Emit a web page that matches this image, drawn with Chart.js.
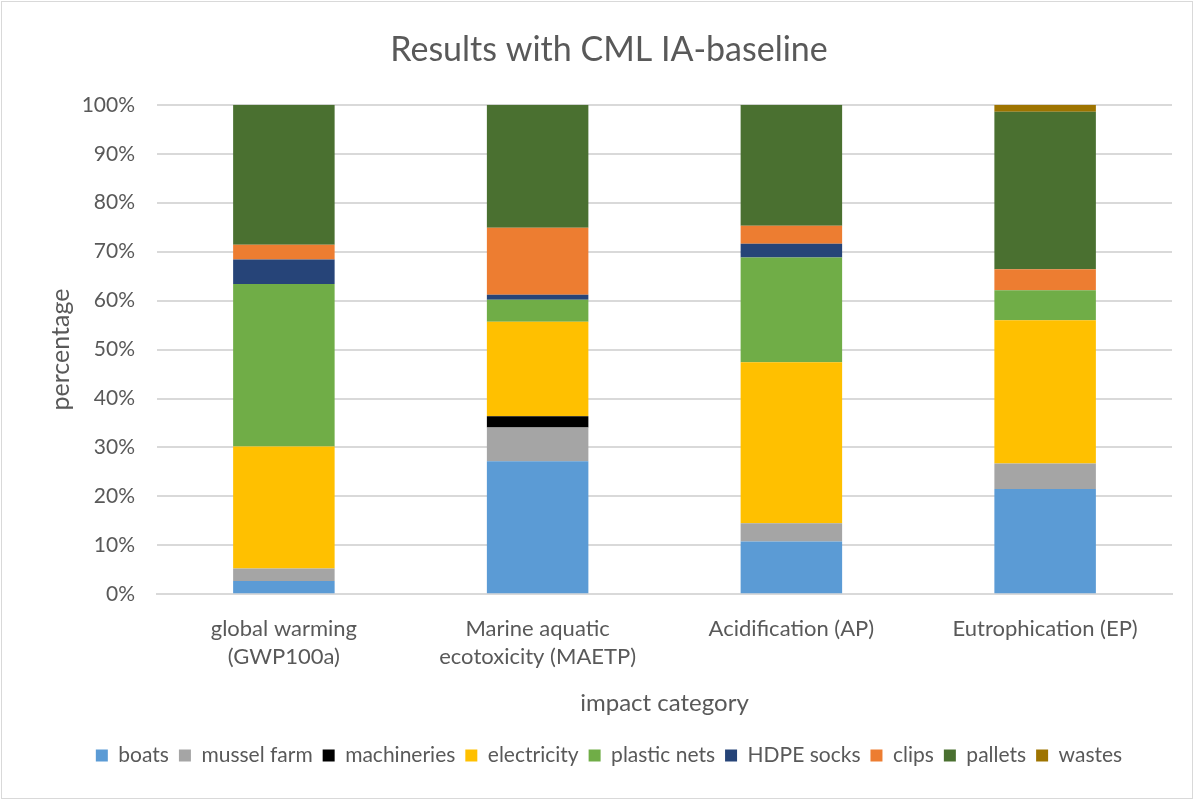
<!DOCTYPE html>
<html>
<head>
<meta charset="utf-8">
<script src="https://cdn.jsdelivr.net/npm/chart.js@4"></script>
<style>
  html, body { margin: 0; padding: 0; background: #fff; }
  #wrap { width: 1190px; height: 796px; border: 1px solid #d9d9d9; margin: 1px; }
</style>
</head>
<body>
<div id="wrap"><canvas id="chart" width="1190" height="796"></canvas></div>
<script>
var categories = [
  ["global warming", "(GWP100a)"],
  ["Marine aquatic", "ecotoxicity (MAETP)"],
  "Acidification (AP)",
  "Eutrophication (EP)"
];

var boats       = [2.7, 27.2, 10.8, 21.5];
var musselFarm  = [2.6, 6.9, 3.7, 5.2];
var machineries = [0.0, 2.3, 0.0, 0.0];
var electricity = [24.9, 19.3, 32.9, 29.3];
var plasticNets = [33.2, 4.5, 21.4, 6.1];
var hdpeSocks   = [5.0, 1.0, 2.8, 0.0];
var clips       = [3.0, 13.7, 3.7, 4.3];
var pallets     = [28.6, 25.1, 24.7, 32.2];
var wastes      = [0.0, 0.0, 0.0, 1.4];

var yTicks = [0, 10, 20, 30, 40, 50, 60, 70, 80, 90, 100];

function ds(label, data, color) {
  return {
    label: label,
    data: data,
    backgroundColor: color,
    borderWidth: 0,
    barPercentage: 0.40,
    categoryPercentage: 1.0
  };
}

var font = "Lato, 'Liberation Sans', sans-serif";
var textColor = "#595959";

var ctx = document.getElementById("chart");

new Chart(ctx, {
  type: "bar",
  data: {
    labels: categories,
    datasets: [
      ds("boats", boats, "#5b9bd5"),
      ds("mussel farm", musselFarm, "#a5a5a5"),
      ds("machineries", machineries, "#000000"),
      ds("electricity", electricity, "#ffc000"),
      ds("plastic nets", plasticNets, "#70ad47"),
      ds("HDPE socks", hdpeSocks, "#264478"),
      ds("clips", clips, "#ed7d31"),
      ds("pallets", pallets, "#4a7030"),
      ds("wastes", wastes, "#9e7400")
    ]
  },
  options: {
    responsive: false,
    animation: false,
    layout: { padding: { left: 44, right: 20, top: 10, bottom: 22 } },
    plugins: {
      title: {
        display: true,
        text: "Results with CML IA-baseline",
        color: textColor,
        font: { family: font, size: 34, weight: "normal" },
        padding: { top: 18, bottom: 34 }
      },
      legend: {
        position: "bottom",
        labels: {
          color: textColor,
          font: { family: font, size: 21 },
          boxWidth: 12,
          boxHeight: 12,
          padding: 10
        }
      },
      tooltip: { enabled: false }
    },
    scales: {
      x: {
        stacked: true,
        grid: { display: false },
        border: { color: "#d9d9d9", width: 2 },
        ticks: {
          color: textColor,
          font: { family: font, size: 22, lineHeight: 1.27 },
          padding: 13
        },
        title: {
          display: true,
          text: "impact category",
          color: textColor,
          font: { family: font, size: 24 },
          padding: { top: 5, bottom: 17 }
        }
      },
      y: {
        stacked: true,
        min: 0,
        max: 100,
        afterBuildTicks: function (axis) {
          axis.ticks = yTicks.map(function (v) { return { value: v }; });
        },
        afterFit: function (axis) {
          axis.width = 111;
        },
        grid: { color: "#d9d9d9", lineWidth: 2, drawTicks: false },
        border: { display: false },
        ticks: {
          color: textColor,
          font: { family: font, size: 21 },
          padding: 22,
          callback: function (v) { return v + "%"; }
        },
        title: {
          display: true,
          text: "percentage",
          color: textColor,
          font: { family: font, size: 25 },
          padding: { top: 0, bottom: 0 }
        }
      }
    }
  }
});
</script>
</body>
</html>
